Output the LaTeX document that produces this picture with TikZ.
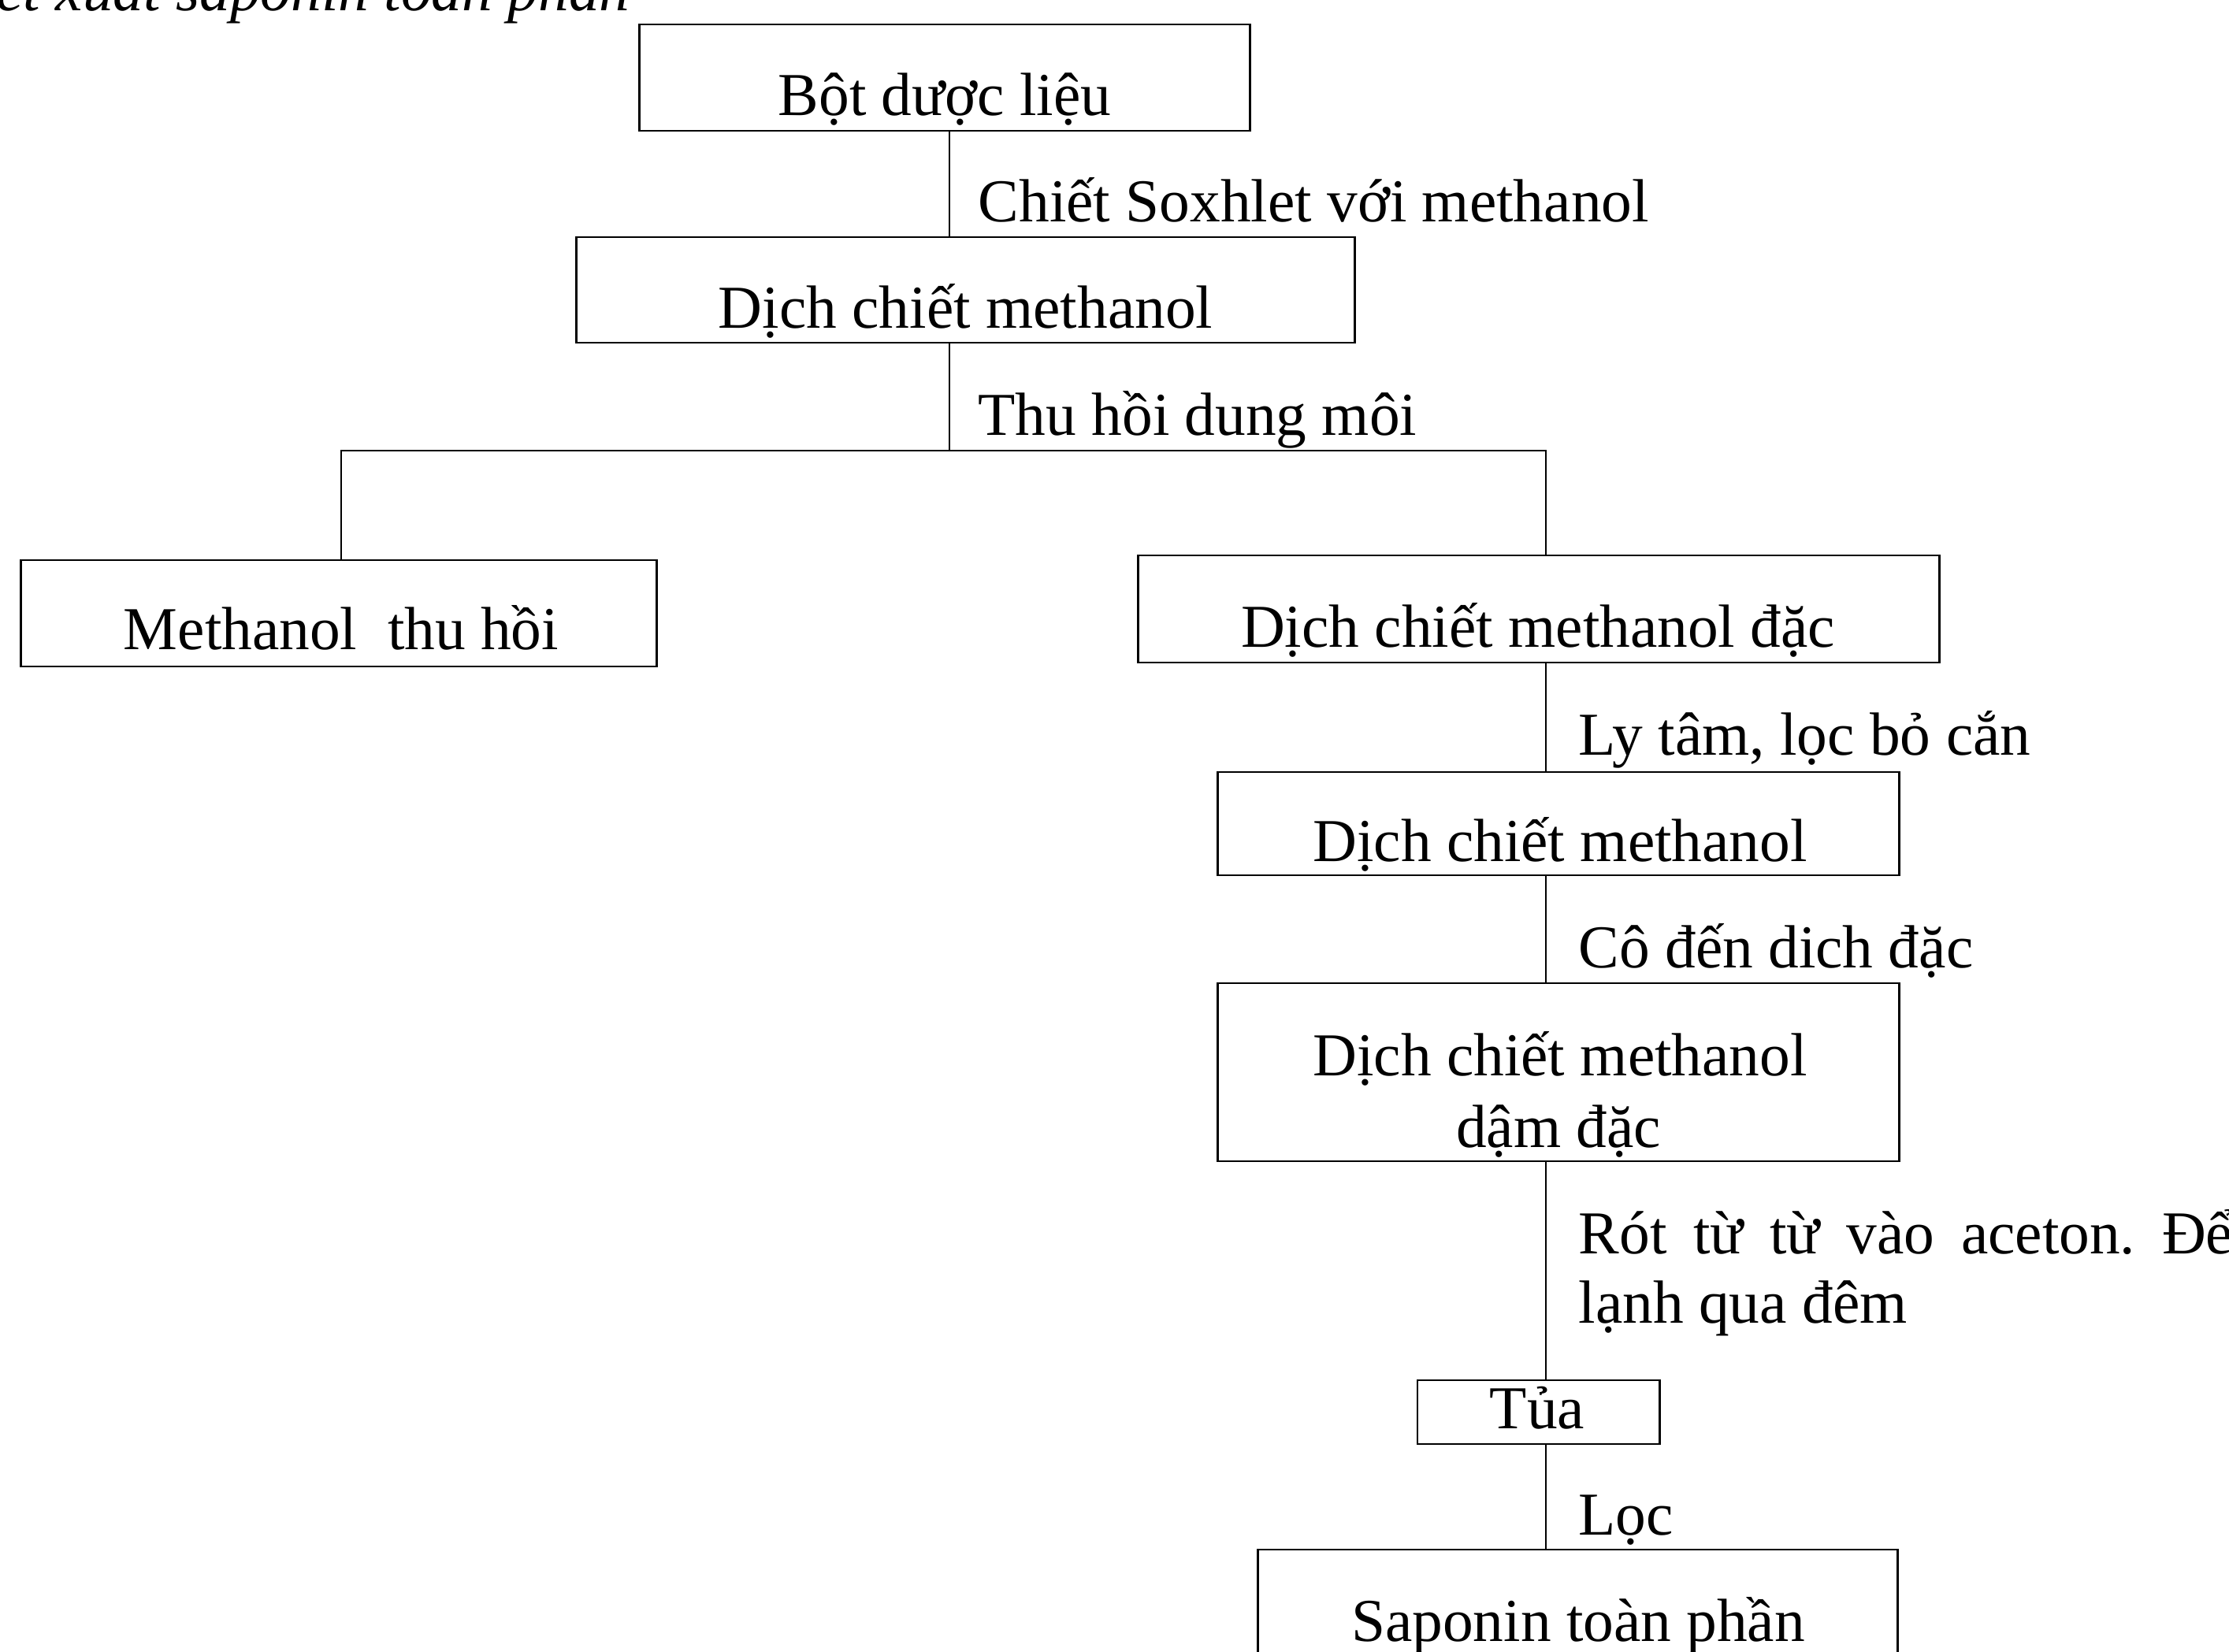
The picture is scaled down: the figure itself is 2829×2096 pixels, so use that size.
\documentclass[tikz,border=0pt]{standalone}
\usepackage{fontspec}
\setmainfont{Liberation Serif}
\begin{document}
\frenchspacing
\begin{tikzpicture}[x=0.01cm,y=-0.01cm,
  box/.style={draw,line width=0.8pt,inner sep=0pt,rectangle},
  txt/.style={anchor=base,inner sep=0pt,font=\fontsize{22}{26}\selectfont},
  lbl/.style={anchor=base west,inner sep=0pt,font=\fontsize{22}{26}\selectfont},
  conn/.style={line width=0.8pt}]
\useasboundingbox (0,0) rectangle (2829,2096);
% title (cut at top)
\node[anchor=base east,inner sep=0pt,font=\fontsize{22}{26}\selectfont\itshape] (title) at (800,13) {chiết xuất saponin toàn phần};
% boxes
\node[box,minimum width=7.74cm,minimum height=1.35cm] (b1) at (1199,98.5) {};
\node[txt] (t1) at (1199,146) {Bột dược liệu};
\node[box,minimum width=9.87cm,minimum height=1.34cm] (b2) at (1225.5,368) {};
\node[txt] (t2) at (1225.5,416) {Dịch chiết methanol};
\node[box,minimum width=8.06cm,minimum height=1.35cm] (bL) at (430,778.5) {};
\node[txt] (tL) at (433,824) {Methanol\ \ thu hồi};
\node[box,minimum width=10.16cm,minimum height=1.36cm] (b3) at (1953,773) {};
\node[txt] (t3) at (1952,821) {Dịch chiết methanol đặc};
\node[box,minimum width=8.64cm,minimum height=1.31cm] (b4) at (1978,1045.5) {};
\node[txt] (t4) at (1980,1093) {Dịch chiết methanol};
\node[box,minimum width=8.64cm,minimum height=2.26cm] (b5) at (1978,1361) {};
\node[txt] (t5a) at (1980,1365) {Dịch chiết methanol};
\node[txt] (t5b) at (1978,1456) {dậm đặc};
\node[box,minimum width=3.07cm,minimum height=0.81cm] (b6) at (1952.5,1792.5) {};
\node[txt] (t6) at (1951,1813) {Tủa};
\node[box,minimum width=8.11cm,minimum height=1.8cm] (b7) at (2002.5,2057) {};
\node[txt] (t7) at (2003,2083) {Saponin toàn phần};
% spines
\coordinate (st) at (1205,0);
\coordinate (hl) at (433,572);
\coordinate (hr) at (1962,572);
% connectors
\draw[conn] (b1.south -| st) -- (b2.north -| st);
\draw[conn] (b2.south -| st) -- (st |- hl);
\draw[conn] (bL.north -| hl) -- (hl) -- (hr) -- (b3.north -| hr);
\draw[conn] (b3.south -| hr) -- (b4.north -| hr);
\draw[conn] (b4.south -| hr) -- (b5.north -| hr);
\draw[conn] (b5.south -| hr) -- (b6.north -| hr);
\draw[conn] (b6.south -| hr) -- (b7.north -| hr);
% labels
\node[lbl] (l1) at (1241,281) {Chiết Soxhlet với methanol};
\node[lbl] (l2) at (1241,552) {Thu hồi dung môi};
\node[lbl] (l3) at (2003,958) {Ly tâm, lọc bỏ cắn};
\node[lbl] (l4) at (2003,1228) {Cô đến dich đặc};
\node[lbl] (l5a) at (2003,1591) {\makebox[8.3cm][s]{Rót từ từ vào aceton. Để}};
\node[lbl] (l5b) at (2003,1679) {lạnh qua đêm};
\node[lbl] (l6) at (2003,1948) {Lọc};
\end{tikzpicture}
\end{document}
